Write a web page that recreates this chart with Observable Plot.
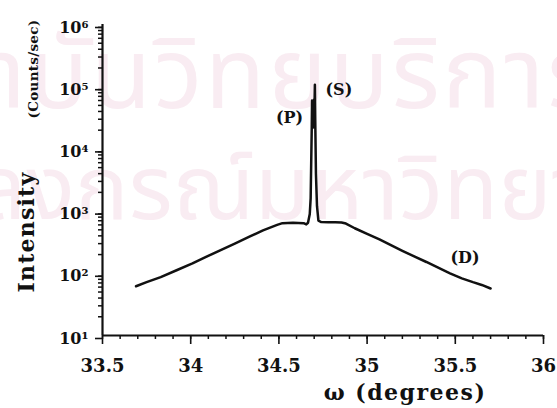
<!DOCTYPE html>
<html>
<head>
<meta charset="utf-8">
<script src="https://cdn.jsdelivr.net/npm/d3@7"></script>
<script src="https://cdn.jsdelivr.net/npm/@observablehq/plot@0.6"></script>
<style>
  html, body { margin: 0; padding: 0; background: #fff; }
  #chart svg { display: block; }
</style>
</head>
<body>
<div id="chart"></div>
<script>
// Rocking curve: intensity (counts/sec) versus omega (degrees)
const omega = [
  33.69, 33.75, 33.83, 33.92, 34.01, 34.09, 34.17, 34.25, 34.33, 34.41,
  34.49, 34.52, 34.58, 34.64, 34.655, 34.665, 34.675, 34.680, 34.686, 34.688,
  34.690, 34.692, 34.694, 34.696, 34.698, 34.700, 34.702, 34.704, 34.706, 34.710,
  34.716, 34.724, 34.74, 34.78, 34.82, 34.855, 34.88, 34.93, 35.00, 35.07,
  35.135, 35.20, 35.27, 35.336, 35.40, 35.47, 35.537, 35.60, 35.65, 35.70
];
const intensity = [
  62, 72, 87, 112, 144, 185, 236, 300, 385, 490,
  600, 640, 650, 640, 610, 650, 900, 1600, 20000, 60000,
  25000, 58000, 22000, 55000, 26000, 62000, 50000, 107000, 30000, 4000,
  1200, 700, 665, 660, 660, 655, 630, 530, 430, 350,
  283, 230, 185, 152, 124, 100, 83, 72, 65, 57
];

// Axis ticks and their labels
const xTicks = [33.5, 34, 34.5, 35, 35.5, 36];
const xTickLabels = ["33.5", "34", "34.5", "35", "35.5", "36"];
const yTicks = [1e1, 1e2, 1e3, 1e4, 1e5, 1e6];
const yTickLabels = ["10¹", "10²", "10³", "10⁴", "10⁵", "10⁶"];

// Peak annotations
const peakLabels = ["(P)", "(S)", "(D)"];
const peakLabelX = [34.56, 34.84, 35.555];
const peakLabelY = [31600, 90000, 180];

// Background stamp
const stampLines = ["สถาบันวิทยบริการ", "จุฬาลงกรณ์มหาวิทยาลัย"];

const xMinor = d3.range(0, 26).map(i => 33.5 + i * 0.1);
const yMinor = [];
for (let e = 1; e < 6; e++) for (let m = 2; m <= 9; m++) yMinor.push(m * 10 ** e);

const serif = "'DejaVu Serif', 'Liberation Serif', serif";
const thai = "'Noto Sans Thai', 'Loma', 'Garuda', 'Norasi', sans-serif";
const stampColor = "#f9ecf2";

const chart = Plot.plot({
  width: 557,
  height: 408,
  marginLeft: 102,
  marginRight: 14,
  marginTop: 24,
  marginBottom: 73,
  style: { fontFamily: serif, fontWeight: "bold", background: "#fff", color: "#111", overflow: "visible" },
  x: { domain: [33.5, 36] },
  y: { type: "log", domain: [10, 1e6] },
  marks: [
    Plot.text([stampLines[0]], {
      frameAnchor: "top-left", dx: -238, dy: 52, lineAnchor: "middle", textAnchor: "start",
      fontSize: 99, fontWeight: "normal", fill: stampColor, fontFamily: thai
    }),
    Plot.text([stampLines[1]], {
      frameAnchor: "top-left", dx: -272, dy: 166, lineAnchor: "middle", textAnchor: "start",
      fontSize: 90, fontWeight: "normal", fill: stampColor, fontFamily: thai
    }),
    Plot.axisX(xMinor, { tickSize: 4, fill: "none", label: null, strokeWidth: 1.5 }),
    Plot.axisX(xTicks, {
      tickSize: 9, tickPadding: 15, label: null, strokeWidth: 1.6, fontSize: 18,
      tickFormat: d => xTickLabels[xTicks.indexOf(d)]
    }),
    Plot.axisY(yMinor, { tickSize: 4, fill: "none", label: null, strokeWidth: 1.5 }),
    Plot.axisY(yTicks, {
      tickSize: 7, tickPadding: 7, label: null, strokeWidth: 1.6, fontSize: 16, dy: 3,
      tickFormat: d => yTickLabels[yTicks.indexOf(d)]
    }),
    Plot.ruleX([33.5], { strokeWidth: 2.2 }),
    Plot.ruleY([10], { strokeWidth: 2.2 }),
    Plot.line(omega, { x: omega, y: intensity, stroke: "#111", strokeWidth: 2.5, strokeLinejoin: "round" }),
    Plot.text(peakLabels, { x: peakLabelX, y: peakLabelY, text: d => d, fontSize: 16, fill: "#111" }),
    Plot.text(["ω (degrees)"], {
      frameAnchor: "bottom", dx: 82, dy: 57, lineAnchor: "middle", textAnchor: "middle",
      fontSize: 22, fill: "#111"
    }),
    Plot.text(["Intensity"], {
      frameAnchor: "left", rotate: -90, dx: -76, dy: 52, lineAnchor: "middle", textAnchor: "middle",
      fontSize: 22, fill: "#111"
    }),
    Plot.text(["(Counts/sec)"], {
      frameAnchor: "left", rotate: -90, dx: -69, dy: -111, lineAnchor: "middle", textAnchor: "middle",
      fontSize: 13.5, fill: "#111"
    })
  ]
});

// Wider tracking on the axis titles and the first stamp line
d3.select(chart).selectAll("text").each(function () {
  const t = this.textContent;
  if (t === "ω (degrees)") this.style.letterSpacing = "1.5px";
  if (t === "Intensity") this.style.letterSpacing = "1.2px";
  if (t === "(Counts/sec)") this.style.letterSpacing = "0.3px";
  if (t === stampLines[0]) this.style.letterSpacing = "2.5px";
});

document.getElementById("chart").appendChild(chart);
</script>
</body>
</html>
